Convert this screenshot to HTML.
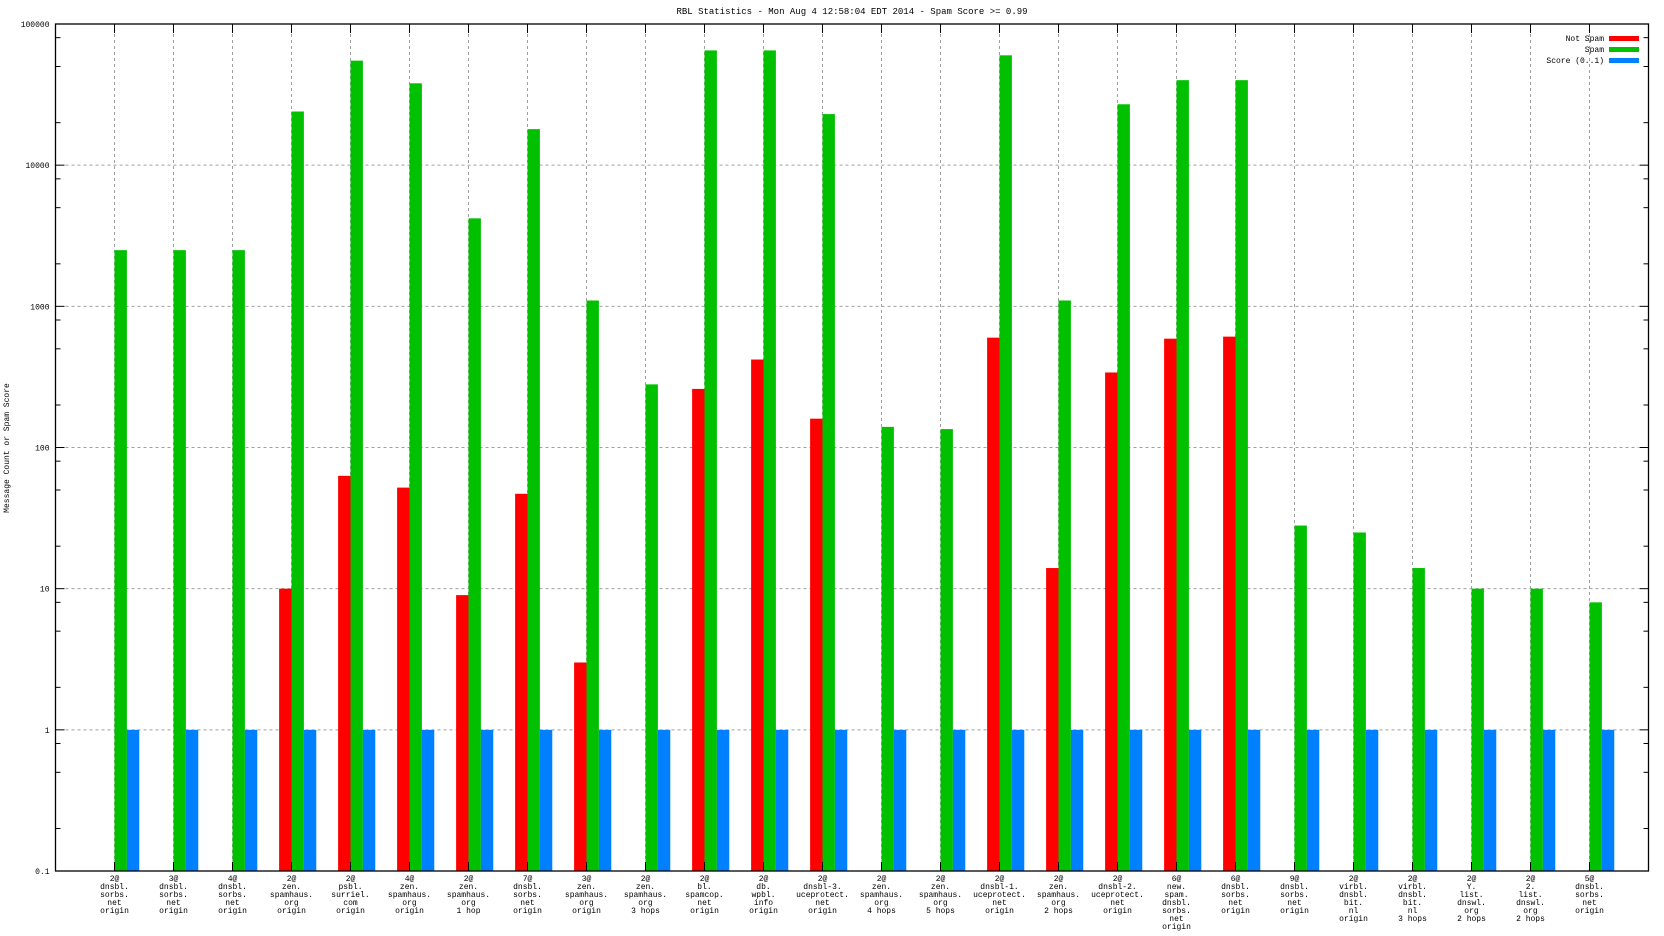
<!DOCTYPE html>
<html><head><meta charset="utf-8"><style>
html,body{margin:0;padding:0;background:#fff}
svg{display:block}
text{font-family:"Liberation Mono","DejaVu Sans Mono",monospace;fill:#000}
</style></head><body>
<svg id="chart" width="1664" height="936" viewBox="0 0 1664 936" xmlns="http://www.w3.org/2000/svg">
<text x="852" y="14" font-size="9" text-anchor="middle">RBL Statistics - Mon Aug  4 12:58:04 EDT 2014 - Spam Score &gt;= 0.99</text>
<text x="0" y="0" font-size="8" text-anchor="middle" transform="translate(9,448) rotate(-90)">Message Count or Spam Score</text>
<g id="grid"></g><g id="bars"></g><g id="axes"></g><g id="xlabels"></g>
<g id="legend">
<text x="1604" y="41" font-size="8" text-anchor="end">Not Spam</text>
<rect x="1609" y="36" width="30" height="5" fill="#ff0000"/>
<text x="1604" y="52" font-size="8" text-anchor="end">Spam</text>
<rect x="1609" y="47" width="30" height="5" fill="#00c000"/>
<text x="1604" y="63" font-size="8" text-anchor="end">Score (0..1)</text>
<rect x="1609" y="58" width="30" height="5" fill="#0080ff"/>
</g>
</svg>
<script>
const categories = [
 ["2@","dnsbl.","sorbs.","net","origin"],["3@","dnsbl.","sorbs.","net","origin"],["4@","dnsbl.","sorbs.","net","origin"],
 ["2@","zen.","spamhaus.","org","origin"],["2@","psbl.","surriel.","com","origin"],["4@","zen.","spamhaus.","org","origin"],
 ["2@","zen.","spamhaus.","org","1 hop"],["7@","dnsbl.","sorbs.","net","origin"],["3@","zen.","spamhaus.","org","origin"],
 ["2@","zen.","spamhaus.","org","3 hops"],["2@","bl.","spamcop.","net","origin"],["2@","db.","wpbl.","info","origin"],
 ["2@","dnsbl-3.","uceprotect.","net","origin"],["2@","zen.","spamhaus.","org","4 hops"],["2@","zen.","spamhaus.","org","5 hops"],
 ["2@","dnsbl-1.","uceprotect.","net","origin"],["2@","zen.","spamhaus.","org","2 hops"],["2@","dnsbl-2.","uceprotect.","net","origin"],
 ["6@","new.","spam.","dnsbl.","sorbs.","net","origin"],["6@","dnsbl.","sorbs.","net","origin"],["9@","dnsbl.","sorbs.","net","origin"],
 ["2@","virbl.","dnsbl.","bit.","nl","origin"],["2@","virbl.","dnsbl.","bit.","nl","3 hops"],["2@","Y.","list.","dnswl.","org","2 hops"],
 ["2@","2.","list.","dnswl.","org","2 hops"],["5@","dnsbl.","sorbs.","net","origin"]
];
const notSpam = [0,0,0,10,63,52,9,47,3,0,260,420,160,0,0,600,14,340,590,610,0,0,0,0,0,0];
const spam = [2500,2500,2500,24000,55000,38000,4200,18000,1100,280,65000,65000,23000,140,135,60000,1100,27000,40000,40000,28,25,14,10,10,8];
const score = [1,1,1,1,1,1,1,1,1,1,1,1,1,1,1,1,1,1,1,1,1,1,1,1,1,1];
const yTicks = [0.1,1,10,100,1000,10000,100000];
const yTickLabels = ["0.1","1","10","100","1000","10000","100000"];

const NS="http://www.w3.org/2000/svg";
const L=55.5,R=1648.5,T=24,B=871;
const step=(R-L)/(categories.length+1);
function xPos(i){return L+step*(i+1);}
function yPos(v){return B-(Math.log10(v)-Math.log10(0.1))/6*(B-T);}
function mk(tag,attrs,parent){const e=document.createElementNS(NS,tag);for(const k in attrs)e.setAttribute(k,attrs[k]);parent.appendChild(e);return e;}
const grid=document.getElementById('grid'),bars=document.getElementById('bars'),axes=document.getElementById('axes'),xl=document.getElementById('xlabels');
const bw=step*0.21;
// horizontal grid
yTicks.forEach((v,k)=>{
 const y=yPos(v);
 if(k>0&&k<yTicks.length-1){const g=mk('line',{x1:L+10,x2:R-10,y1:y,y2:y,stroke:'#a0a0a0','stroke-dasharray':'3,3','stroke-width':1},grid);
 
 }
 const t=mk('line',{x1:L,x2:L+9,y1:y,y2:y,stroke:'#000'},axes);
 
 
 const t2=mk('line',{x1:R-9,x2:R,y1:y,y2:y,stroke:'#000'},axes);
 
 
 const lb=mk('text',{x:L-6,y:y+3,'font-size':8,'text-anchor':'end'},axes);
 lb.textContent=yTickLabels[k];
 
 
 if(k<yTicks.length-1){[2,5,8].forEach(m=>{const yy=yPos(v*m);
  const a=mk('line',{x1:L,x2:L+5,y1:yy,y2:yy,stroke:'#000'},axes);
  
  
  const b=mk('line',{x1:R-5,x2:R,y1:yy,y2:yy,stroke:'#000'},axes);
  
  });}
});
categories.forEach((c,i)=>{
 const x=xPos(i);
 const g=mk('line',{x1:x,x2:x,y1:T+10,y2:B,stroke:'#a0a0a0','stroke-dasharray':'3,3'},grid);
 
 
 const t=mk('line',{x1:x,x2:x,y1:T,y2:T+9,stroke:'#000'},axes);
 
 
 const t2=mk('line',{x1:x,x2:x,y1:B-9,y2:B,stroke:'#000'},axes);
 
 
 if(notSpam[i]>0){const r=mk('rect',{x:x-bw,y:yPos(notSpam[i]),width:bw,height:B-yPos(notSpam[i]),fill:'#ff0000'},bars);
  
  }
 if(spam[i]>0){const r=mk('rect',{x:x,y:yPos(spam[i]),width:bw,height:B-yPos(spam[i]),fill:'#00c000'},bars);
  
  }
 if(score[i]>0){const r=mk('rect',{x:x+bw,y:yPos(score[i]),width:bw,height:B-yPos(score[i]),fill:'#0080ff'},bars);
  
  }
 const tx=mk('text',{x:x,y:B+10,'font-size':8,'text-anchor':'middle'},xl);
 
 
 c.forEach((ln,j)=>{const s=mk('tspan',{x:x,dy:j?8:0},tx);s.textContent=ln;});
});
const border=mk('rect',{x:L,y:T,width:R-L,height:B-T,fill:'none',stroke:'#000','stroke-width':1.3},axes);


</script>
</body></html>
